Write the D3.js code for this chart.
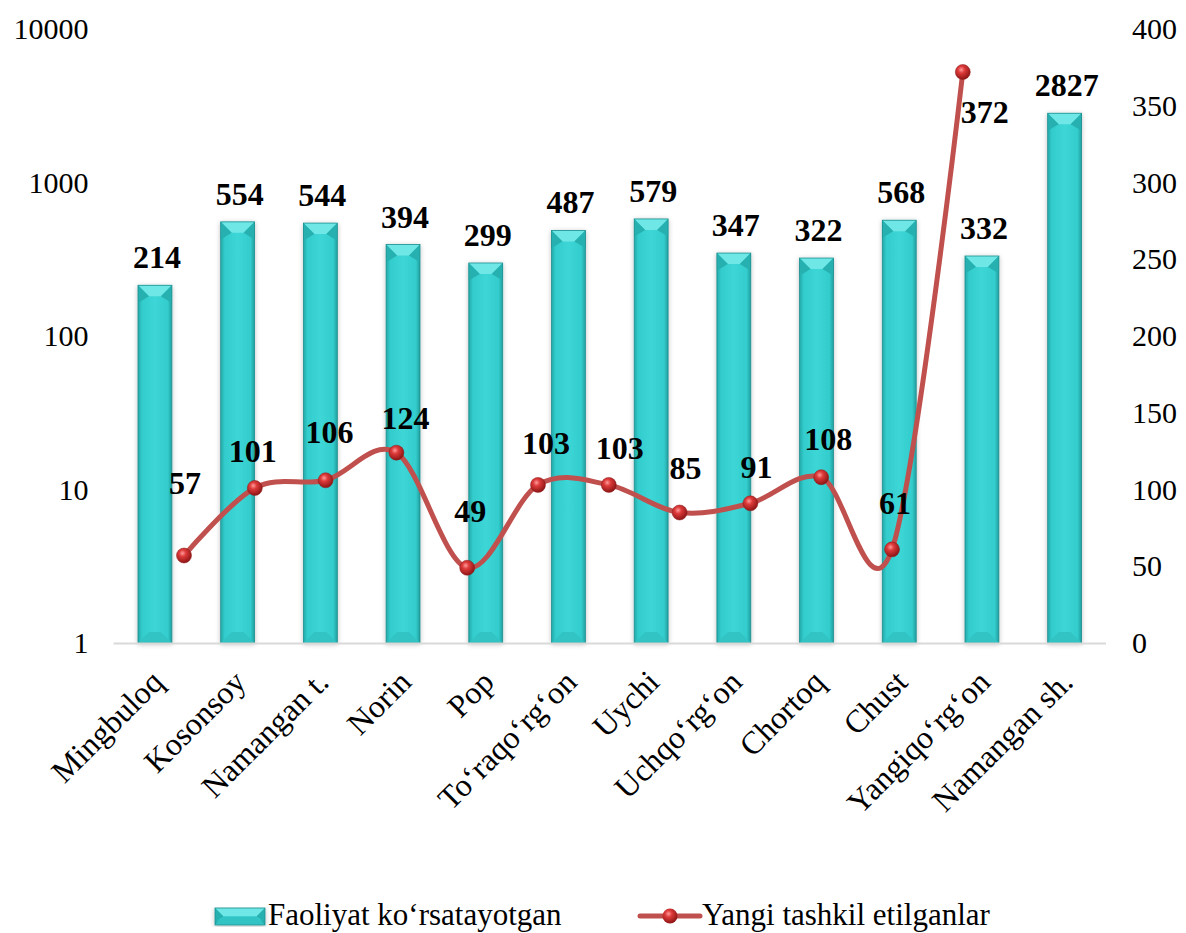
<!DOCTYPE html>
<html><head><meta charset="utf-8">
<script src="https://cdn.jsdelivr.net/npm/d3@7"></script>
<style>body{margin:0;background:#fff}svg{display:block}</style>
</head><body>
<svg id="c" width="1186" height="933" font-family="Liberation Serif"></svg>
<script>
const categories = ["Mingbuloq","Kosonsoy","Namangan t.","Norin","Pop","To\u2018raqo\u2018rg\u2018on","Uychi","Uchqo\u2018rg\u2018on","Chortoq","Chust","Yangiqo\u2018rg\u2018on","Namangan sh."];
const activeCounts = [214,554,544,394,299,487,579,347,322,568,332,2827];
const newCounts = [57,101,106,124,49,103,103,85,91,108,61,372];
const leftTicks = [1,10,100,1000,10000];
const rightTicks = [0,50,100,150,200,250,300,350,400];
const seriesNames = ["Faoliyat ko\u2018rsatayotgan","Yangi tashkil etilganlar"];

// label placement (style config, not data)
const lineLabelOffsets = [[1,-73],[-2,-37],[4,-48],[9,-35],[3,-57],[8,-42],[11,-37],[6,-45],[6,-36],[7,-38],[3,-46],[22,40]];

const FONT = "Liberation Serif";
const svg = d3.select("#c");
const plotTop = 29, plotBottom = 643, plotLeft = 113.6, plotRight = 1106;

const x = d3.scaleBand().domain(categories).range([plotLeft, plotRight]).paddingInner(0.59).paddingOuter(0.295);
const xLine = d3.scaleBand().domain(categories).range([148.6, 998.2]);
const yL = d3.scaleLog().domain([1,10000]).range([plotBottom, plotTop]);
const yR = d3.scaleLinear().domain([0,400]).range([plotBottom, plotTop]);

const defs = svg.append("defs");
const g1 = defs.append("linearGradient").attr("id","barG").attr("x1","0").attr("x2","1").attr("y1","0").attr("y2","0");
[[0,"#24a9a9"],[0.12,"#33cccc"],[0.5,"#3dd6d6"],[0.88,"#33cccc"],[1,"#229f9f"]].forEach(s=>g1.append("stop").attr("offset",s[0]).attr("stop-color",s[1]));
const rg = defs.append("radialGradient").attr("id","mk").attr("cx","0.4").attr("cy","0.35").attr("r","0.65");
[[0,"#ff9a9a"],[0.35,"#dd3a3a"],[1,"#8e1515"]].forEach(s=>rg.append("stop").attr("offset",s[0]).attr("stop-color",s[1]));
const f = defs.append("filter").attr("id","sh").attr("x","-30%").attr("y","-10%").attr("width","160%").attr("height","120%");
f.append("feGaussianBlur").attr("in","SourceAlpha").attr("stdDeviation",2.5);
f.append("feOffset").attr("dx",0).attr("dy",1).attr("result","b");
f.append("feComponentTransfer").append("feFuncA").attr("type","linear").attr("slope",0.25);
const fm = f.append("feMerge"); fm.append("feMergeNode"); fm.append("feMergeNode").attr("in","SourceGraphic");

// axes
const axL = svg.append("g").attr("transform",`translate(${plotLeft},0)`)
  .call(d3.axisLeft(yL).tickValues(leftTicks).tickFormat(d3.format("d")).tickSize(0).tickPadding(25));
axL.attr("font-family",FONT).attr("font-size",30);
axL.select(".domain").remove();
axL.selectAll("text").attr("font-family",FONT).attr("font-size",30).attr("fill","#000");
const axR = svg.append("g").attr("transform",`translate(${plotRight},0)`)
  .call(d3.axisRight(yR).tickValues(rightTicks).tickSize(0).tickPadding(26));
axR.attr("font-family",FONT).attr("font-size",30);
axR.select(".domain").remove();
axR.selectAll("text").attr("font-family",FONT).attr("font-size",30).attr("fill","#000");

// bars
function drawBar(sel, bx, by, bw, bh){
  const gb = sel.append("g").attr("filter","url(#sh)");
  gb.append("rect").attr("x",bx).attr("y",by).attr("width",bw).attr("height",bh).attr("fill","url(#barG)");
  const bv = Math.min(11, bh/2);
  gb.append("polygon").attr("points",[[bx,by],[bx+bw,by],[bx+bw-bv,by+bv],[bx+bv,by+bv]].join(" ")).attr("fill","#6fe7e7");
  gb.append("polygon").attr("points",[[bx,by],[bx+bv,by+bv],[bx,by+bv*1.6]].join(" ")).attr("fill","#28b0b0");
  gb.append("polygon").attr("points",[[bx+bw,by],[bx+bw-bv,by+bv],[bx+bw,by+bv*1.6]].join(" ")).attr("fill","#28b0b0");
  gb.append("polygon").attr("points",[[bx,by+bh],[bx+bw,by+bh],[bx+bw-bv,by+bh-bv],[bx+bv,by+bh-bv]].join(" ")).attr("fill","#31c4c4");
  gb.append("rect").attr("x",bx).attr("y",by).attr("width",bw).attr("height",bh).attr("fill","none").attr("stroke","#1e8f8f").attr("stroke-width",0.8);
}
const barsG = svg.append("g");
categories.forEach((c,i)=>{
  const v = activeCounts[i];
  drawBar(barsG, x(c), yL(v), x.bandwidth(), plotBottom - yL(v));
});

// baseline
svg.append("line").attr("x1",plotLeft).attr("x2",plotRight).attr("y1",plotBottom+0.5).attr("y2",plotBottom+0.5).attr("stroke","#d9d9d9").attr("stroke-width",2);

// bar labels
svg.append("g").selectAll("text").data(categories).join("text")
  .attr("x",(c)=>x(c)+x.bandwidth()/2+2).attr("y",(c,i)=>yL(activeCounts[i])-17)
  .attr("text-anchor","middle").attr("font-family",FONT).attr("font-weight","bold").attr("font-size",32).text((c,i)=>activeCounts[i]);

// line
const pts = categories.map((c,i)=>[xLine(c)+xLine.bandwidth()/2, yR(newCounts[i])]);
svg.append("path").attr("d", d3.line().curve(d3.curveCatmullRom.alpha(0))(pts))
  .attr("fill","none").attr("stroke","#c0504d").attr("stroke-width",5).attr("stroke-linejoin","round");
svg.append("g").selectAll("circle").data(pts).join("circle")
  .attr("cx",d=>d[0]).attr("cy",d=>d[1]).attr("r",7.5).attr("fill","url(#mk)").attr("stroke","#8e1b1b").attr("stroke-width",0.5);
svg.append("g").selectAll("text").data(pts).join("text")
  .attr("x",(d,i)=>d[0]+lineLabelOffsets[i][0]).attr("y",(d,i)=>d[1]+lineLabelOffsets[i][1]+11)
  .attr("text-anchor","middle").attr("font-family",FONT).attr("font-weight","bold").attr("font-size",32).text((d,i)=>newCounts[i]);

// category labels
svg.append("g").selectAll("text").data(categories).join("text")
  .attr("transform",c=>`translate(${x(c)+x.bandwidth()/2+10},684) rotate(-45)`)
  .attr("text-anchor","end").attr("font-family",FONT).attr("font-size",32).text(c=>c);

// legend
const lg = svg.append("g");
drawBar(lg, 215, 908, 50, 17);
lg.append("text").attr("x",268).attr("y",925).attr("font-family",FONT).attr("font-size",31).text(seriesNames[0]);
lg.append("line").attr("x1",640).attr("x2",700).attr("y1",916).attr("y2",916).attr("stroke","#c0504d").attr("stroke-width",5).attr("stroke-linecap","round");
lg.append("circle").attr("cx",670).attr("cy",916).attr("r",7.5).attr("fill","url(#mk)");
lg.append("text").attr("x",702).attr("y",925).attr("font-family",FONT).attr("font-size",31).text(seriesNames[1]);
</script>
</body></html>
